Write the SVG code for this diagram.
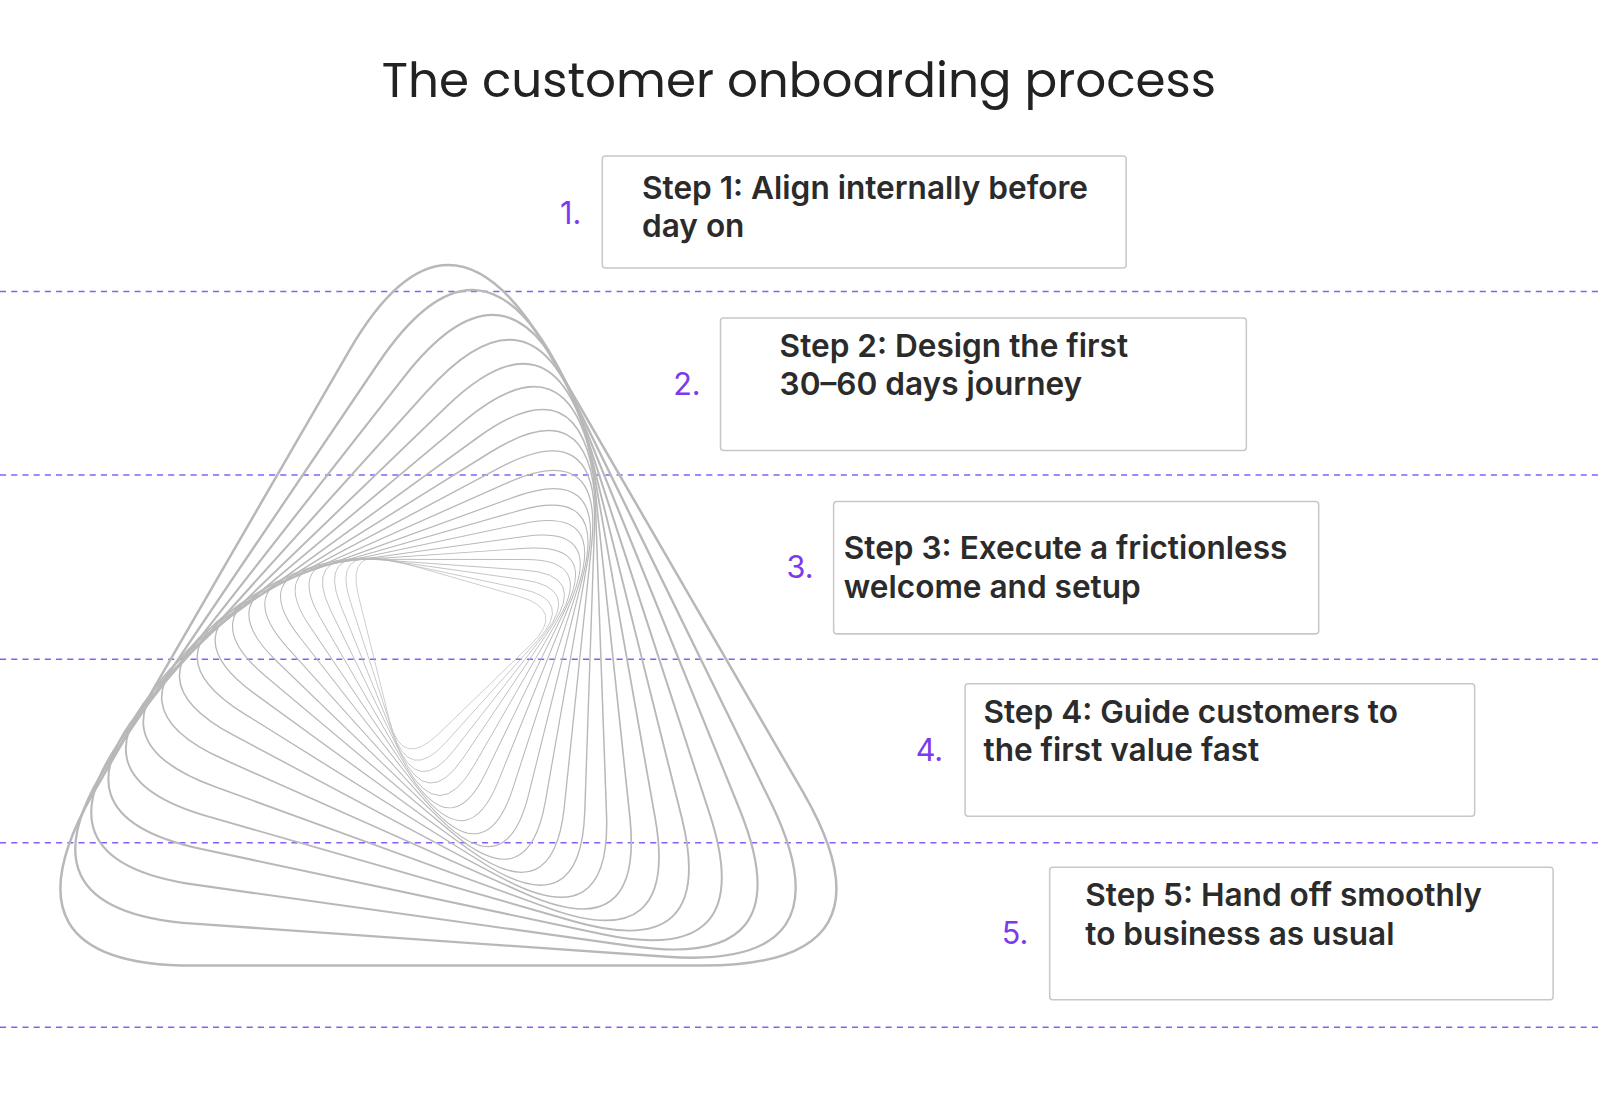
<svg xmlns="http://www.w3.org/2000/svg" width="1598" height="1101" viewBox="0 0 1598 1101">
<style>
.box{fill:#fff;stroke:#c8c8c8;stroke-width:1.5}
.t{font-family:Inter,"Liberation Sans",sans-serif;font-size:31px;font-weight:600;fill:#2b2b2b}
.n{font-family:Inter,"Liberation Sans",sans-serif;font-size:30px;fill:#7c3aed;text-anchor:middle}
.dash{stroke:#8b5cf6;stroke-width:1.5;stroke-dasharray:6 5}
.tri{fill:none;stroke:#b8b8b8;stroke-width:2.4;vector-effect:non-scaling-stroke}
</style>
<defs><path id="rt" d="M95,-335 L338,85 Q433,250 243,250 L-243,250 Q-433,250 -338,85 L-95,-335 Q0,-500 95,-335 Z"/></defs>
<rect width="1598" height="1101" fill="#fff"/>
<g transform="scale(1.0191)">
<text x="784" y="95" text-anchor="middle" font-family="Poppins,'Noto Sans',sans-serif" font-size="47.5" fill="#222">The customer onboarding process</text>
<g id="connectors">
<line class="dash" x1="0" y1="286" x2="1570" y2="286"/>
<line class="dash" x1="0" y1="466" x2="1570" y2="466"/>
<line class="dash" x1="0" y1="647" x2="1570" y2="647"/>
<line class="dash" x1="0" y1="827" x2="1570" y2="827"/>
<line class="dash" x1="0" y1="1008" x2="1570" y2="1008"/>
</g>
<g id="spiral" transform="translate(0,10)">
<use href="#rt" class="tri" transform="translate(440.0,680.0) rotate(0) scale(1.03)"/>
<use href="#rt" class="tri" transform="translate(439.1,673.7) rotate(4) scale(0.958)"/>
<use href="#rt" class="tri" transform="translate(438.3,667.9) rotate(8) scale(0.891)"/>
<use href="#rt" class="tri" transform="translate(437.5,662.5) rotate(12) scale(0.828)"/>
<use href="#rt" class="tri" transform="translate(436.8,657.6) rotate(16) scale(0.770)"/>
<use href="#rt" class="tri" transform="translate(436.1,653.2) rotate(20) scale(0.717)"/>
<use href="#rt" class="tri" transform="translate(435.5,649.1) rotate(24) scale(0.666)"/>
<use href="#rt" class="tri" transform="translate(434.9,645.3) rotate(28) scale(0.620)"/>
<use href="#rt" class="tri" transform="translate(434.4,641.9) rotate(32) scale(0.577)"/>
<use href="#rt" class="tri" transform="translate(433.9,638.8) rotate(36) scale(0.536)"/>
<use href="#rt" class="tri" transform="translate(433.4,636.0) rotate(40) scale(0.498)"/>
<use href="#rt" class="tri" transform="translate(433.0,633.5) rotate(44) scale(0.464)"/>
<use href="#rt" class="tri" transform="translate(432.6,631.2) rotate(48) scale(0.432)"/>
<use href="#rt" class="tri" transform="translate(432.2,629.2) rotate(52) scale(0.401)"/>
<use href="#rt" class="tri" transform="translate(431.8,627.3) rotate(56) scale(0.373)"/>
<use href="#rt" class="tri" transform="translate(431.5,625.7) rotate(60) scale(0.347)"/>
<use href="#rt" class="tri" transform="translate(431.2,624.2) rotate(64) scale(0.322)"/>
<use href="#rt" class="tri" transform="translate(430.9,622.9) rotate(68) scale(0.300)"/>
<use href="#rt" class="tri" transform="translate(430.6,621.8) rotate(72) scale(0.279)"/>
<use href="#rt" class="tri" transform="translate(430.0,620.0) rotate(76) scale(0.260)"/>
</g>
<g id="step1"><rect class="box" x="591" y="153" width="514" height="110" rx="3"/><text class="n" x="560" y="220">1.</text><text class="t" x="630" y="195">Step 1: Align internally before</text><text class="t" x="630" y="233">day on</text></g>
<g id="step2"><rect class="box" x="707" y="312" width="516" height="130" rx="3"/><text class="n" x="674" y="388">2.</text><text class="t" x="765" y="350">Step 2: Design the first</text><text class="t" x="765" y="388">30–60 days journey</text></g>
<g id="step3"><rect class="box" x="818" y="492" width="476" height="130" rx="3"/><text class="n" x="785" y="567">3.</text><text class="t" x="828" y="549">Step 3: Execute a frictionless</text><text class="t" x="828" y="587">welcome and setup</text></g>
<g id="step4"><rect class="box" x="947" y="671" width="500" height="130" rx="3"/><text class="n" x="912" y="747">4.</text><text class="t" x="965" y="709">Step 4: Guide customers to</text><text class="t" x="965" y="747">the first value fast</text></g>
<g id="step5"><rect class="box" x="1030" y="851" width="494" height="130" rx="3"/><text class="n" x="996" y="926">5.</text><text class="t" x="1065" y="889">Step 5: Hand off smoothly</text><text class="t" x="1065" y="927">to business as usual</text></g>
</g>
</svg>
